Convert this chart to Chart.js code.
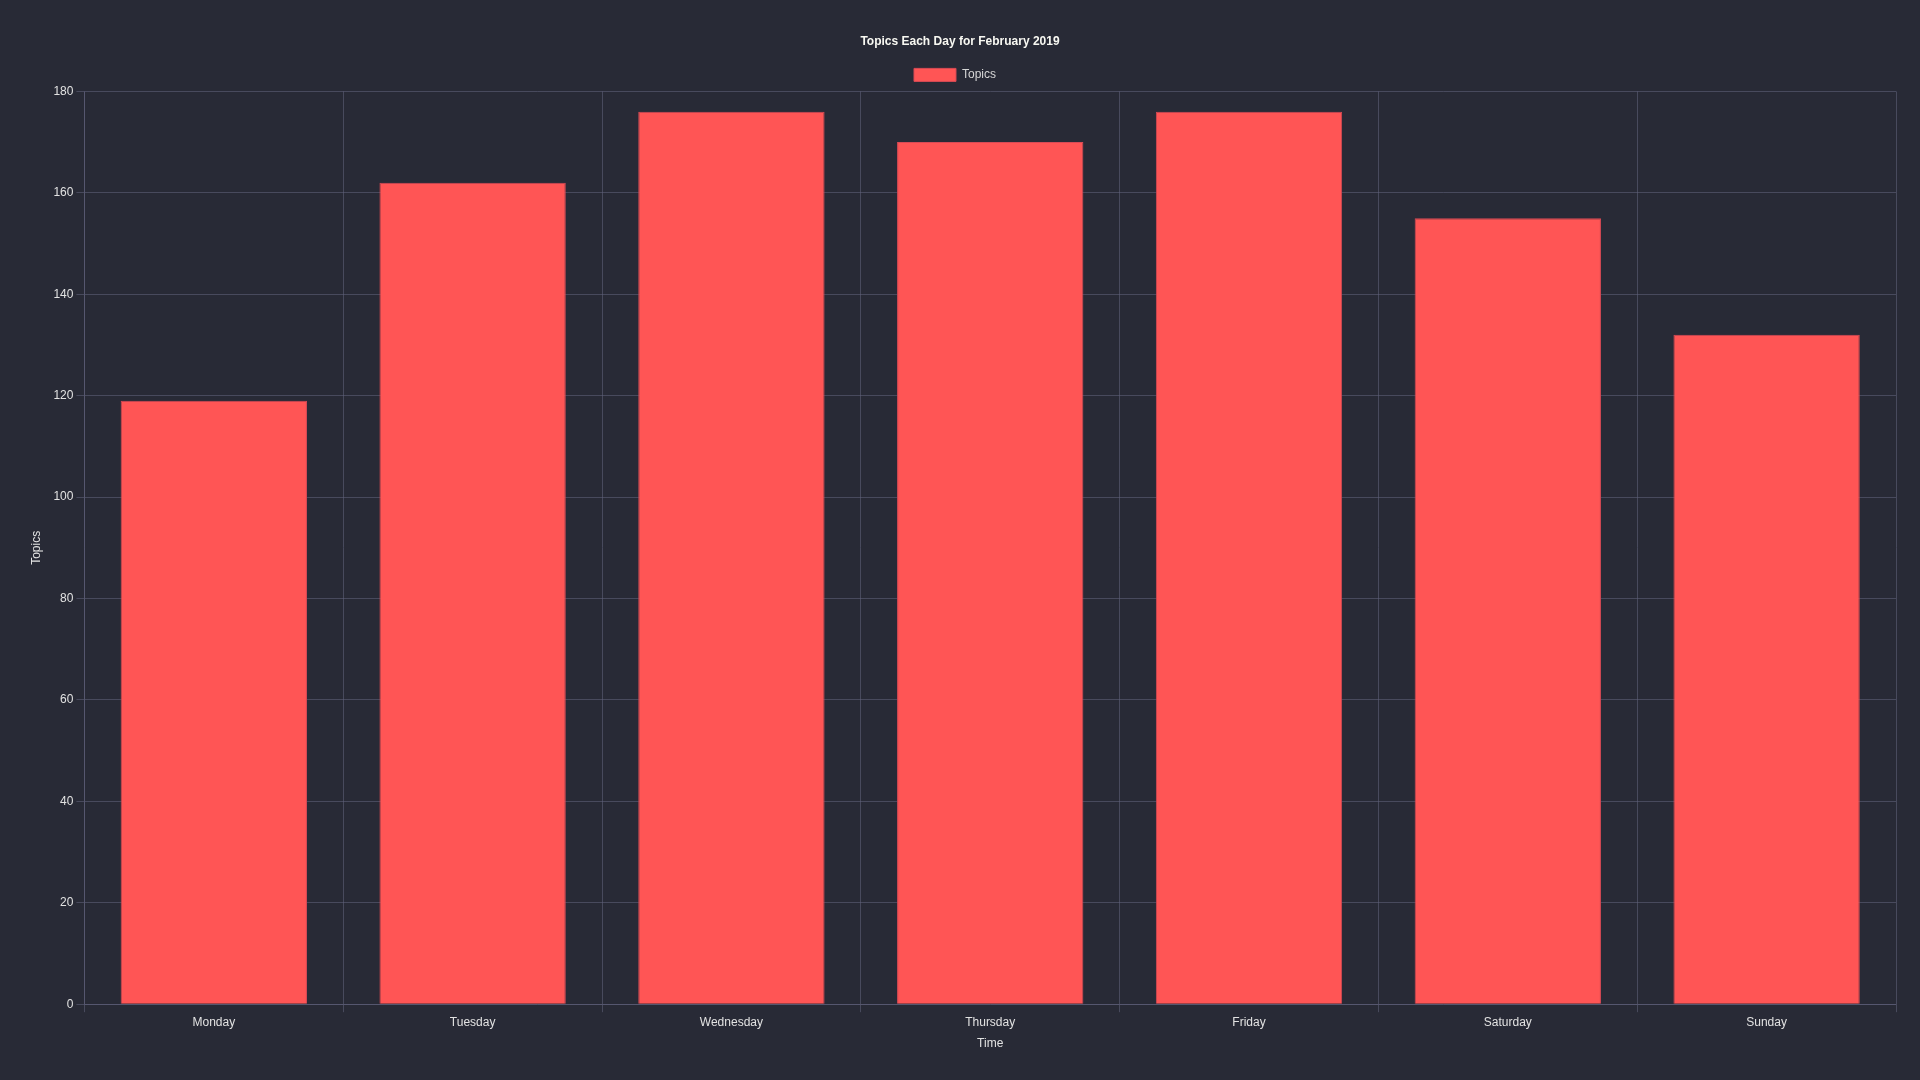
<!DOCTYPE html>
<html>
<head>
<meta charset="utf-8">
<title>Topics Each Day</title>
<script src="https://cdn.jsdelivr.net/npm/chart.js@4.4.1/dist/chart.umd.min.js"></script>
<style>
  html, body { margin: 0; padding: 0; background: #282a36; }
  #wrap { width: 1920px; height: 1080px; }
</style>
</head>
<body>
<div id="wrap"><canvas id="topics-chart"></canvas></div>
<script>
'use strict';

const days = ['Monday', 'Tuesday', 'Wednesday', 'Thursday', 'Friday', 'Saturday', 'Sunday'];
const topics = [119, 162, 176, 170, 176, 155, 132];

const textColor = '#e2e2e2';
const gridColor = 'rgba(98,101,126,0.55)';

Chart.defaults.font.family = '"Liberation Sans", Arial, sans-serif';
Chart.defaults.font.size = 12;
Chart.defaults.color = textColor;

// default legend items, with a little trailing room so the item sits left of centre like the original
const legendLabels = (chart) =>
  Chart.defaults.plugins.legend.labels.generateLabels(chart).map(item => ({ ...item, text: item.text + '   ' }));

new Chart(document.getElementById('topics-chart').getContext('2d'), {
  type: 'bar',
  data: {
    labels: days,
    datasets: [{
      label: 'Topics',
      data: topics,
      backgroundColor: '#ff5555',
      borderColor: '#d94a55',
      borderWidth: 1,
    }],
  },
  options: {
    responsive: true,
    maintainAspectRatio: false,
    animation: false,
    layout: { padding: { top: 24, right: 24, bottom: 25, left: 24 } },
    plugins: {
      title: {
        display: true,
        text: 'Topics Each Day for February 2019',
        color: '#f8f8f2',
        font: { size: 12, weight: 'bold' },
        padding: { top: 10, bottom: 10 },
      },
      legend: {
        labels: { color: '#d6d6d6', boxWidth: 42, boxHeight: 13, generateLabels: legendLabels },
      },
      tooltip: { enabled: false },
    },
    scales: {
      x: {
        title: { display: true, text: 'Time', color: textColor },
        ticks: { color: textColor },
        grid: { color: gridColor },
        border: { color: gridColor },
      },
      y: {
        beginAtZero: true,
        max: 180,
        title: { display: true, text: 'Topics', color: textColor, padding: { top: 5, bottom: 7 } },
        ticks: { color: textColor, stepSize: 20 },
        grid: { color: gridColor },
        border: { color: gridColor },
      },
    },
  },
});
</script>
</body>
</html>
